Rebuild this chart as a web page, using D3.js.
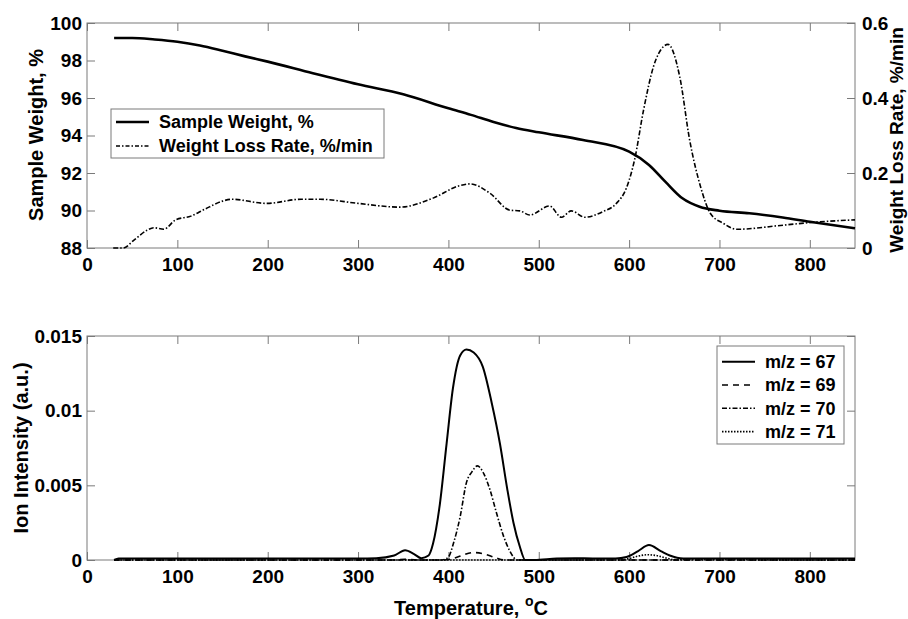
<!DOCTYPE html>
<html>
<head>
<meta charset="utf-8">
<script src="https://cdn.jsdelivr.net/npm/d3@7"></script>
<style>
    body { margin: 0; background: #fff; }
    svg { font-family: "Liberation Sans", Arial, Helvetica, sans-serif; font-weight: bold; }
    .tick line { stroke: #7a7a7a; }
    .tick text { fill: #000; font-size: 19px; font-weight: bold; }
    .frame { fill: none; stroke: #7a7a7a; stroke-width: 1; }
    .curve { fill: none; stroke: #000; }
</style>
</head>
<body>
<div id="chart"></div>
<script>
// top panel: TGA / DTG
var tempWeight = [30, 50, 75, 100, 125, 150, 175, 200, 250, 300, 350, 400, 425, 450, 475, 500, 549, 600, 622, 640, 659, 678, 700, 733, 770, 800, 850];
var sampleWeight = [99.2, 99.2, 99.12, 99.0, 98.8, 98.52, 98.22, 97.94, 97.32, 96.73, 96.2, 95.45, 95.1, 94.72, 94.4, 94.17, 93.76, 93.14, 92.43, 91.54, 90.65, 90.2, 89.99, 89.85, 89.63, 89.4, 89.05];

var tempRate = [29, 40, 52, 67, 74, 85, 98, 115, 130, 150, 160, 199, 237, 258, 300, 346, 383, 412, 424, 446, 468, 479, 490, 512, 525, 536, 551, 571, 586, 597, 606, 616, 627, 638, 643, 656, 667, 679, 690, 704, 719, 771, 801, 850];
var lossRate = [0, 0, 0.021, 0.048, 0.054, 0.05, 0.075, 0.085, 0.103, 0.125, 0.13, 0.119, 0.13, 0.13, 0.119, 0.109, 0.133, 0.166, 0.171, 0.146, 0.101, 0.099, 0.088, 0.112, 0.082, 0.099, 0.082, 0.097, 0.119, 0.16, 0.235, 0.368, 0.484, 0.537, 0.543, 0.457, 0.288, 0.164, 0.092, 0.066, 0.05, 0.061, 0.068, 0.075];

// bottom panel: MS ion currents
var temp67 = [30, 35, 100, 200, 300, 320, 340, 352, 362, 370, 378, 383, 390, 398, 405, 413, 420, 428, 438, 448, 457, 465, 472, 479, 485, 495, 520, 540, 560, 585, 597, 610, 622, 635, 645, 660, 680, 850];
var ion67 = [0, 0.0001, 0.0001, 0.0001, 0.0001, 0.00012, 0.0003, 0.00065, 0.0004, 0.00012, 0.0003, 0.0011, 0.0035, 0.0078, 0.0115, 0.0137, 0.0141, 0.0139, 0.01295, 0.0105, 0.0078, 0.0048, 0.0025, 0.0009, 0, 0, 0.0001, 0.00012, 0.0001, 0.0001, 0.0002, 0.0006, 0.001, 0.0006, 0.0003, 0.0001, 0.0001, 0.0001];

var temp69 = [30, 340, 352, 365, 395, 405, 415, 427, 440, 452, 462, 470, 850];
var ion69 = [0, 0, 0.00005, 0, 0, 0.0001, 0.0003, 0.0005, 0.0004, 0.00015, 0, 0, 0];

var temp70 = [30, 393, 400, 406, 413, 420, 426, 432, 439, 446, 453, 461, 468, 476, 850];
var ion70 = [0, 0, 0.0002, 0.0012, 0.0029, 0.0052, 0.0059, 0.0063, 0.0058, 0.0047, 0.0032, 0.0016, 0.0006, 0, 0];

var temp71 = [30, 590, 600, 610, 620, 630, 640, 650, 850];
var ion71 = [0, 0, 0.0001, 0.00026, 0.00035, 0.0003, 0.00015, 0.00003, 0];

var tempTicks = [0, 100, 200, 300, 400, 500, 600, 700, 800];
var weightTicks = [88, 90, 92, 94, 96, 98, 100];
var rateTicks = [0, 0.2, 0.4, 0.6];
var ionTicks = [0, 0.005, 0.01, 0.015];

var topLegend = ["Sample Weight, %", "Weight Loss Rate, %/min"];
var ionLegend = ["m/z = 67", "m/z = 69", "m/z = 70", "m/z = 71"];

var W = 908, H = 619;
var left = 87, right = 855;

var svg = d3.select("#chart").append("svg")
    .attr("width", W)
    .attr("height", H);

var x = d3.scaleLinear().domain([0, 850]).range([left, right]);
var yWeight = d3.scaleLinear().domain([88, 100]).range([248, 23]);
var yRate = d3.scaleLinear().domain([0, 0.6]).range([248, 23]);
var yIon = d3.scaleLinear().domain([0, 0.015]).range([560, 336]);

function fmt(d) { return String(d); }

function pairs(xs, ys) {
    return xs.map(function (t, i) { return [t, ys[i]]; });
}

// frame + inward ticks for one panel
function draw_frame(yScale, yTicks, y2Scale, y2Ticks, showRightLabels) {
    var top = yScale.range()[1], bottom = yScale.range()[0];

    var gb = svg.append("g").attr("transform", "translate(0," + bottom + ")")
        .call(d3.axisBottom(x).tickValues(tempTicks).tickFormat(fmt).tickSize(-8).tickPadding(10));
    var gt = svg.append("g").attr("transform", "translate(0," + top + ")")
        .call(d3.axisTop(x).tickValues(tempTicks).tickFormat("").tickSize(-8));
    var gl = svg.append("g").attr("transform", "translate(" + left + ",0)")
        .call(d3.axisLeft(yScale).tickValues(yTicks).tickFormat(fmt).tickSize(-8).tickPadding(5));
    var gr = svg.append("g").attr("transform", "translate(" + right + ",0)")
        .call(d3.axisRight(y2Scale).tickValues(y2Ticks).tickFormat(showRightLabels ? fmt : "").tickSize(-8).tickPadding(7));

    [gb, gt, gl, gr].forEach(function (g) {
        g.select(".domain").remove();
        g.attr("font-family", null).attr("font-size", null);
    });

    svg.append("rect")
        .attr("class", "frame")
        .attr("x", left)
        .attr("y", top)
        .attr("width", right - left)
        .attr("height", bottom - top);
}

draw_frame(yWeight, weightTicks, yRate, rateTicks, true);
draw_frame(yIon, ionTicks, yIon, ionTicks, false);

// curves
var weightLine = d3.line().x(d => x(d[0])).y(d => yWeight(d[1])).curve(d3.curveMonotoneX);
var rateLine = d3.line().x(d => x(d[0])).y(d => yRate(d[1])).curve(d3.curveMonotoneX);
var ionLine = d3.line().x(d => x(d[0])).y(d => yIon(d[1])).curve(d3.curveMonotoneX);

var styles = {
    solid: null,
    dashed: "6,5",
    dashdot: "5,2,1.5,2",
    dotted: "1.5,1.5"
};

svg.append("path").attr("class", "curve")
    .attr("d", rateLine(pairs(tempRate, lossRate)))
    .attr("stroke-width", 1.6)
    .attr("stroke-dasharray", styles.dashdot);

svg.append("path").attr("class", "curve")
    .attr("d", weightLine(pairs(tempWeight, sampleWeight)))
    .attr("stroke-width", 2.6);

var ionSeries = [
    { data: pairs(temp71, ion71), style: "dotted", w: 1.6 },
    { data: pairs(temp70, ion70), style: "dashdot", w: 1.6 },
    { data: pairs(temp69, ion69), style: "dashed", w: 1.6 },
    { data: pairs(temp67, ion67), style: "solid", w: 2 }
];

svg.append("g")
    .selectAll("path")
    .data(ionSeries)
    .enter()
    .append("path")
    .attr("class", "curve")
    .attr("d", d => ionLine(d.data))
    .attr("stroke-width", d => d.w)
    .attr("stroke-dasharray", d => styles[d.style]);

// axis titles
svg.append("text")
    .attr("transform", "translate(43,135) rotate(-90)")
    .attr("text-anchor", "middle")
    .attr("font-size", 20)
    .text("Sample Weight, %");

svg.append("text")
    .attr("transform", "translate(903,140) rotate(-90)")
    .attr("text-anchor", "middle")
    .attr("font-size", 19)
    .text("Weight Loss Rate, %/min");

svg.append("text")
    .attr("transform", "translate(28,448) rotate(-90)")
    .attr("text-anchor", "middle")
    .attr("font-size", 20)
    .text("Ion Intensity (a.u.)");

var xt = svg.append("text")
    .attr("x", 471)
    .attr("y", 615)
    .attr("text-anchor", "middle")
    .attr("font-size", 20);
xt.append("tspan").text("Temperature, ");
xt.append("tspan").attr("font-size", 14).attr("dy", -9).text("o");
xt.append("tspan").attr("dy", 9).text("C");

// legends
function draw_legend(bx, by, bw, bh, rowY, rowH, labels, dash, widths) {
    var g = svg.append("g");
    g.append("rect")
        .attr("x", bx).attr("y", by)
        .attr("width", bw).attr("height", bh)
        .attr("fill", "#fff")
        .attr("stroke", "#7a7a7a")
        .attr("stroke-width", 1);

    var row = g.selectAll(".row")
        .data(labels)
        .enter()
        .append("g")
        .attr("transform", (d, i) => "translate(0," + (rowY + i * rowH) + ")");

    row.append("line")
        .attr("x1", bx + 5).attr("x2", bx + 38)
        .attr("stroke", "#000")
        .attr("stroke-width", (d, i) => widths[i])
        .attr("stroke-dasharray", (d, i) => dash[i]);

    row.append("text")
        .attr("x", bx + 48)
        .attr("dy", "0.35em")
        .attr("font-size", 18)
        .text(d => d);
}

draw_legend(111, 109, 273, 49, 122, 24, topLegend, [null, "4,2,1.5,2"], [2.6, 1.5]);
draw_legend(717, 346, 127, 98, 361.7, 23.3, ionLegend,
    [null, "6,5", "5,2,1.5,2", "1.5,1.5"], [2, 1.6, 1.5, 1.6]);
</script>
</body>
</html>
